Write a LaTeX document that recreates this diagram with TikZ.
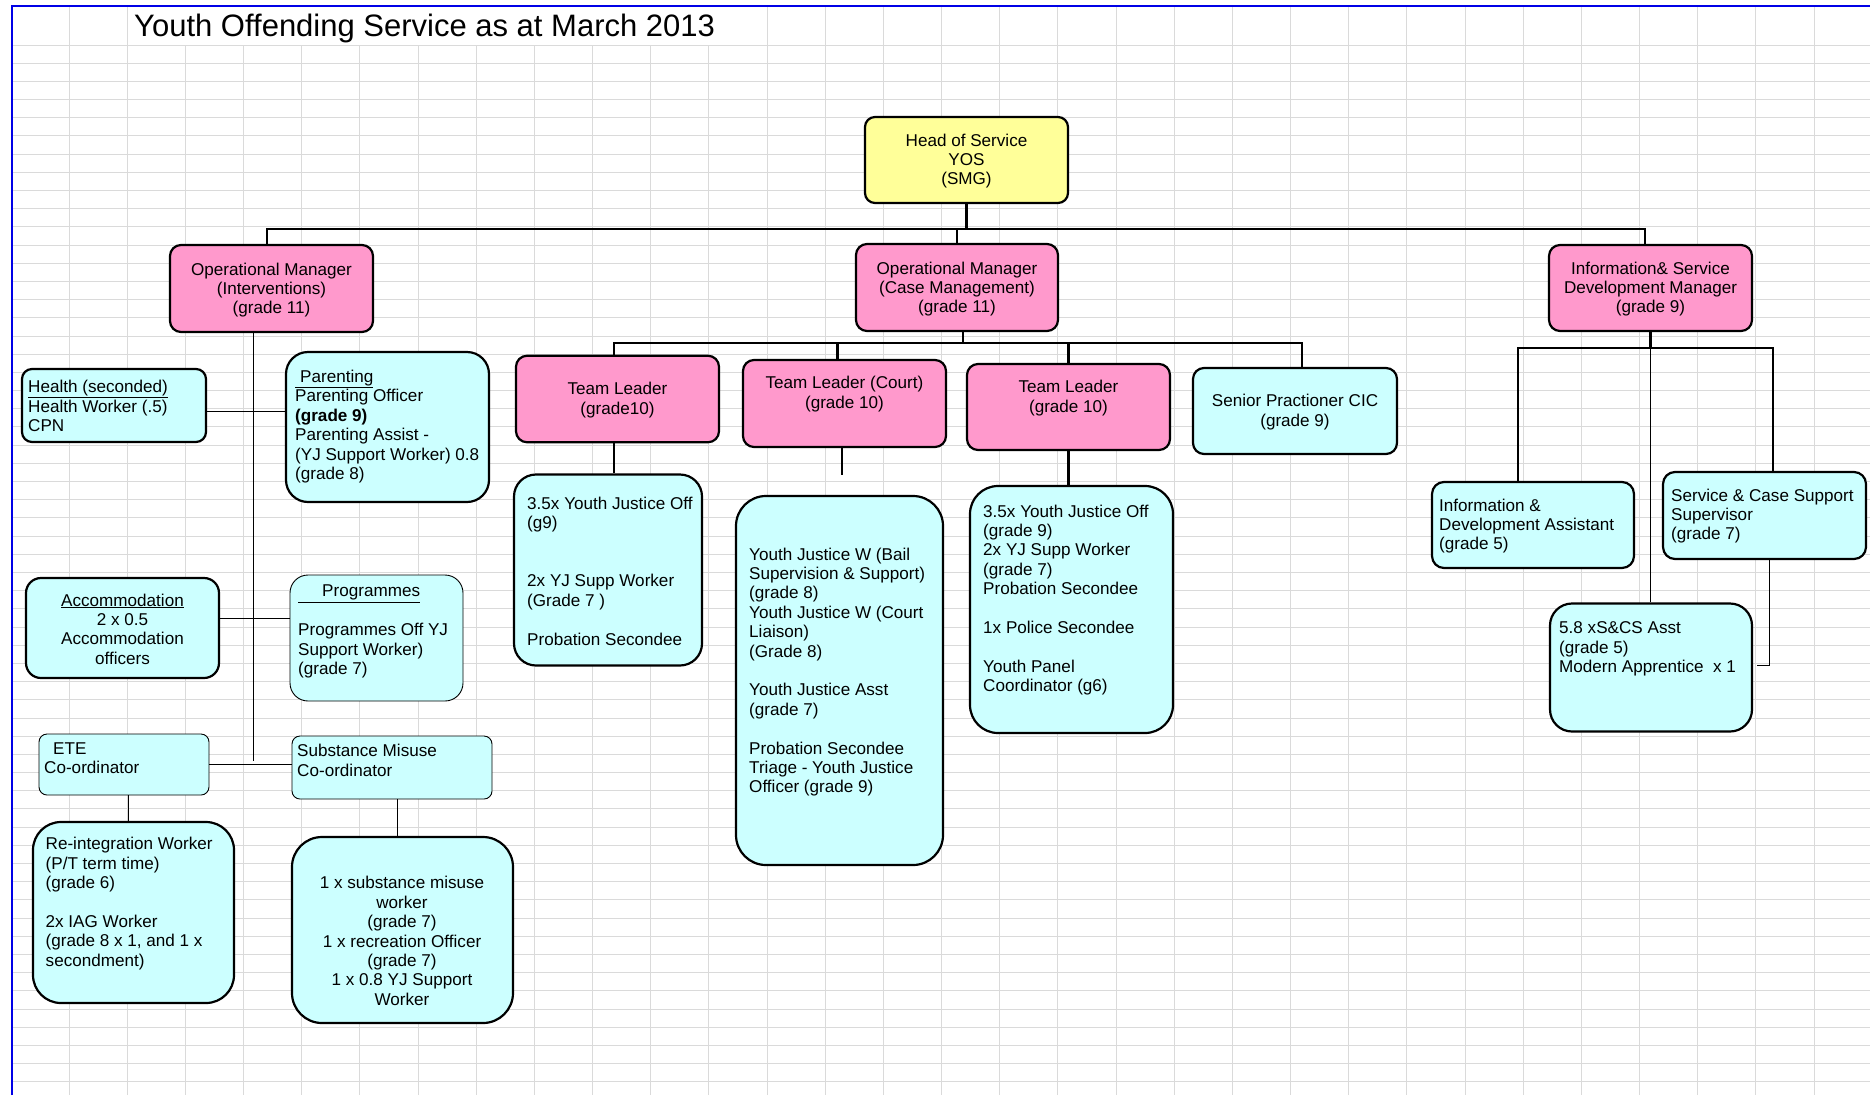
\documentclass[tikz,border=0pt]{standalone}
\usepackage{fontspec}
\setmainfont{Liberation Sans}
\usepackage{tikz}
\usetikzlibrary{positioning, calc}
\definecolor{headyellow}{RGB}{255, 255, 153}
\definecolor{mgrpink}{RGB}{255, 153, 204}
\definecolor{staffcyan}{RGB}{204, 255, 255}
\definecolor{gridgrey}{RGB}{218, 218, 218}
\definecolor{sheetblue}{RGB}{0, 0, 230}

\begin{document}
\begin{tikzpicture}[x=1pt, y=-1pt,
    gridline/.style={gridgrey, line width=1},
    orgbox/.style={draw, line width=2.2, inner sep=0, fill=staffcyan, rounded corners=11},
    pinkbox/.style={orgbox, fill=mgrpink},
    thinedge/.style={line width=0.9},
    txt/.style={inner sep=0, align=left, font=\fontsize{17.1}{19.4}\selectfont},
    ctxt/.style={txt, align=center},
    wire/.style={line width=2.4},
    thinwire/.style={line width=1}]

  \useasboundingbox (0,0) rectangle (1870,1095);

  % Sheet grid
  \foreach \c in {0,...,30}
    \draw[gridline] ({69+58.17*\c},45) -- ({69+58.17*\c},1095);
  \foreach \c in {0,1,12,13,...,30}
    \draw[gridline] ({69+58.17*\c},6) -- ({69+58.17*\c},45);
  \foreach \r in {0,...,57}
    \draw[gridline] (12,{45+18.19*\r}) -- (1870,{45+18.19*\r});
  \draw[sheetblue, line width=2.3] (12,1095) -- (12,6) -- (1870,6);

  % Title
  \node[anchor=base west, inner sep=0, font=\fontsize{31}{36}\selectfont] (title) at (134,36)
    {Youth Offending Service as at March 2013};

  % Head of service
  \node[orgbox, fill=headyellow, minimum width=203, minimum height=86, rounded corners=10] (head) at (966.5,160) {};
  \node[ctxt] (headT) at (966.5,161) {Head of Service\\YOS\\(SMG)};

  % Managers
  \node[pinkbox, minimum width=203, minimum height=87] (omint) at (271.5,288.5) {};
  \node[ctxt] (omintT) at (271.5,290) {Operational Manager\\(Interventions)\\(grade 11)};
  \node[pinkbox, minimum width=202, minimum height=87] (omcase) at (957,287.5) {};
  \node[ctxt] (omcaseT) at (957,289) {Operational Manager\\(Case Management)\\(grade 11)};
  \node[pinkbox, minimum width=203, minimum height=86] (isdm) at (1650.5,288) {};
  \node[ctxt] (isdmT) at (1650.5,289) {Information\& Service\\Development Manager\\(grade 9)};

  % Team leaders
  \node[pinkbox, minimum width=203, minimum height=86.5] (tlone) at (617.5,399) {};
  \node[ctxt] (tloneT) at (617.5,400) {Team Leader\\(grade10)};
  \node[pinkbox, minimum width=203, minimum height=87] (tlcourt) at (844.5,403.5) {};
  \node[ctxt] (tlcourtT) at (844.5,394) {Team Leader (Court)\\(grade 10)};
  \node[pinkbox, minimum width=203, minimum height=86] (tlthree) at (1068.5,407) {};
  \node[ctxt] (tlthreeT) at (1068.5,398) {Team Leader\\(grade 10)};
  \node[orgbox, minimum width=204, minimum height=86] (seniorp) at (1295,411) {};
  \node[ctxt] (seniorpT) at (1295,412) {Senior Practioner CIC\\(grade 9)};

  % Case management teams
  \node[orgbox, minimum width=188, minimum height=191, rounded corners=22] (tlonestaff) at (608,570) {};
  \node[txt, anchor=west] (tlonestaffT) at (527,571)
    {3.5x Youth Justice Off\\(g9)\\[2\baselineskip]2x YJ Supp Worker\\(Grade 7 )\\[\baselineskip]Probation Secondee};
  \node[orgbox, minimum width=207, minimum height=369, rounded corners=30] (tlcourtstaff) at (839.5,680.5) {};
  \node[txt, anchor=west] (tlcourtstaffT) at (749,672)
    {Youth Justice W (Bail\\Supervision \& Support)\\(grade 8)\\Youth Justice W (Court\\Liaison)\\(Grade 8)\\[\baselineskip]Youth Justice Asst\\(grade 7)\\[\baselineskip]Probation Secondee\\Triage - Youth Justice\\Officer (grade 9)};
  \node[orgbox, minimum width=203, minimum height=247, rounded corners=28] (tlthreestaff) at (1071.5,609.5) {};
  \node[txt, anchor=west] (tlthreestaffT) at (983,600)
    {3.5x Youth Justice Off\\(grade 9)\\2x YJ Supp Worker\\(grade 7)\\Probation Secondee\\[\baselineskip]1x Police Secondee\\[\baselineskip]Youth Panel\\Coordinator (g6)};

  % Information team
  \node[orgbox, minimum width=202, minimum height=86, rounded corners=12] (infoasst) at (1533,525) {};
  \node[txt, anchor=west] (infoasstT) at (1439,526) {Information \&\\Development Assistant\\(grade 5)};
  \node[orgbox, minimum width=203, minimum height=87, rounded corners=12] (scsup) at (1764.5,515.5) {};
  \node[txt, anchor=west] (scsupT) at (1671,516) {Service \& Case Support\\Supervisor\\(grade 7)};
  \node[orgbox, minimum width=202, minimum height=128, rounded corners=22] (scasst) at (1651,667.5) {};
  \node[txt, anchor=west] (scasstT) at (1559,649) {5.8 xS\&CS Asst\\(grade 5)\\Modern Apprentice\ \ x 1};

  % Interventions teams
  \node[orgbox, minimum width=184, minimum height=73, rounded corners=10] (health) at (114,405.5) {};
  \node[txt, anchor=west] (healthT) at (28,406) {\underline{Health (seconded)}\\Health Worker (.5)\\CPN};
  \node[orgbox, minimum width=203, minimum height=150, rounded corners=22] (parenting) at (387.5,427) {};
  \node[txt, anchor=west] (parentingT) at (295,426.5)
    {\underline{\hspace*{5pt}Parenting}\\Parenting Officer\\\textbf{(grade 9)}\\Parenting Assist -\\(YJ Support Worker) 0.8\\(grade 8)};
  \node[orgbox, minimum width=193, minimum height=100, rounded corners=15] (accom) at (122.5,628) {};
  \node[ctxt] (accomT) at (122.5,629) {\underline{Accommodation}\\2 x 0.5\\Accommodation\\officers};
  \node[orgbox, thinedge, minimum width=173, minimum height=126, rounded corners=18] (progs) at (376.5,638) {};
  \node[txt, anchor=west] (progsT) at (298,631.5)
    {\underline{\hspace*{24pt}Programmes}\\[\baselineskip]Programmes Off YJ\\Support Worker)\\(grade 7)};
  \node[orgbox, thinedge, minimum width=170, minimum height=61, rounded corners=8] (ete) at (124,764.5) {};
  \node[txt, anchor=west] (eteT) at (44,758) {\hspace*{9pt}ETE\\Co-ordinator};
  \node[orgbox, thinedge, minimum width=200, minimum height=63, rounded corners=8] (subcoord) at (392,767.5) {};
  \node[txt, anchor=west] (subcoordT) at (297,760.5) {Substance Misuse\\Co-ordinator};
  \node[orgbox, minimum width=201, minimum height=181, rounded corners=28] (reinteg) at (133.5,912.5) {};
  \node[txt, anchor=west] (reintegT) at (45.5,903.5)
    {Re-integration Worker\\(P/T term time)\\(grade 6)\\[\baselineskip]2x IAG Worker\\(grade 8 x 1, and 1 x\\secondment)};
  \node[orgbox, minimum width=221, minimum height=186, rounded corners=30] (substaff) at (402.5,930) {};
  \node[ctxt] (substaffT) at (402,941)
    {1 x substance misuse\\worker\\(grade 7)\\1 x recreation Officer\\(grade 7)\\1 x 0.8 YJ Support\\Worker};

  % Main bus
  \draw[wire] (head.south) -- ++(0,25) coordinate (hub);
  \draw[wire] ([xshift=-4.5]omint.north) |- (hub) -| ([xshift=-5.5]isdm.north);
  \draw[wire] (omcase.north) -- (omcase.north |- hub);

  % Team leader bus
  \draw[wire] ([xshift=6]omcase.south) -- ++(0,11) coordinate (tlhub);
  \draw[wire] ([xshift=-3.5]tlone.north) |- (tlhub) -| ([xshift=7]seniorp.north);
  \draw[wire] ([xshift=-7]tlcourt.north) -- ([xshift=-7]tlcourt.north |- tlhub);
  \draw[wire] (tlthree.north) -- (tlthree.north |- tlhub);
  \draw[wire] ([xshift=-3.5]tlone.south) -- ([xshift=-3.5]tlone.south |- tlonestaff.north);
  \draw[wire] ([xshift=-2.5]tlcourt.south) -- ++(0,27) coordinate (courtstub);
  \draw[wire] (tlthree.south) -- (tlthree.south |- tlthreestaff.north);

  % Information bus
  \draw[wire] (isdm.south) -- ++(0,16) coordinate (infohub);
  \draw[wire] ([xshift=-15]infoasst.north) |- (infohub) -| ([xshift=8.5]scsup.north);
  \draw[thinwire] (isdm.south) -- (isdm.south |- scasst.north);
  \draw[thinwire] ([xshift=4.5]scsup.south) |- ([xshift=4, yshift=2.5]scasst.east);

  % Interventions links
  \draw[thinwire] ([xshift=-18.5]omint.south) -- ++(0,428) coordinate (spine);
  \draw[thinwire] ([yshift=-5.5]health.east) -- ([yshift=-5.5]health.east -| parenting.west);
  \draw[thinwire] ([yshift=10]accom.east) -- ([yshift=10]accom.east -| progs.west);
  \draw[thinwire] (ete.east) -- (ete.east -| subcoord.west);
  \draw[thinwire] ([xshift=4]ete.south) -- ([xshift=4]ete.south |- reinteg.north);
  \draw[thinwire] ([xshift=5]subcoord.south) -- ([xshift=5]subcoord.south |- substaff.north);
\end{tikzpicture}
\end{document}
